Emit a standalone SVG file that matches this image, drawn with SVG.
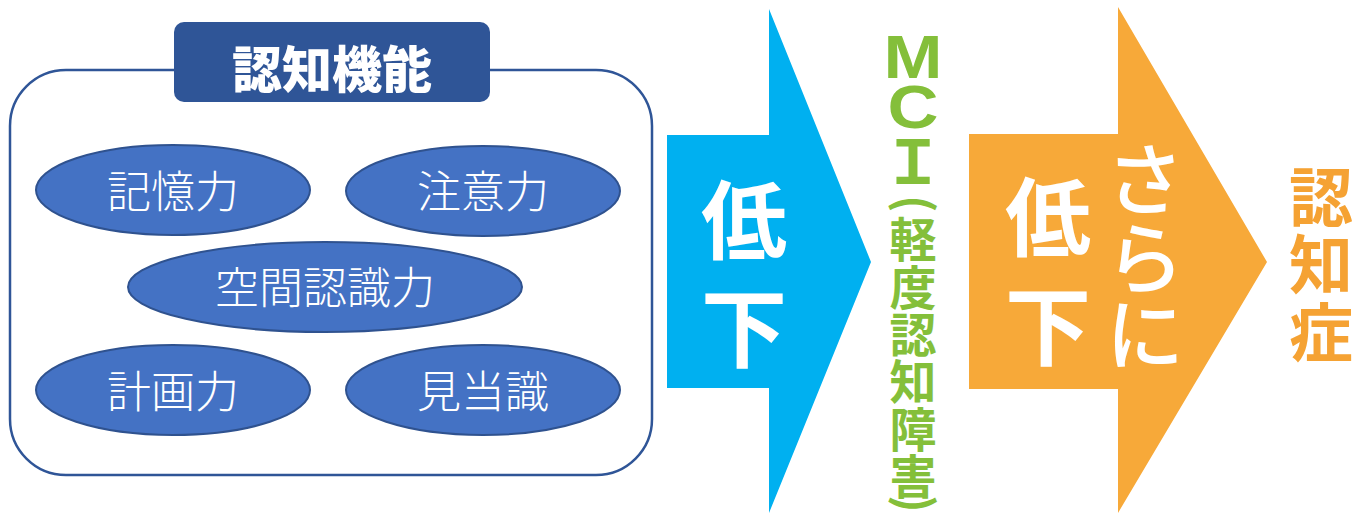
<svg xmlns="http://www.w3.org/2000/svg" width="1355" height="514" viewBox="0 0 1355 514">
<style>
.jp{font-family:"Noto Sans CJK JP","Noto Sans CJK SC",sans-serif;}
.lat{font-family:"Liberation Sans",Arial,sans-serif;}
.ell{fill:#4472C4;stroke:#2F528F;stroke-width:2;}
.et{fill:#fff;font-size:44px;font-weight:300;text-anchor:middle;dominant-baseline:central;}
.big{fill:#fff;font-size:86px;font-weight:bold;text-anchor:middle;dominant-baseline:central;}
.g{fill:#84BF3A;font-size:47px;font-weight:bold;text-anchor:middle;dominant-baseline:central;}
.o{fill:#F5A233;font-size:64px;font-weight:bold;text-anchor:middle;dominant-baseline:central;}
</style>
<rect width="1355" height="514" fill="#fff"/>
<g id="cognitive-function">
<rect x="10" y="70" width="642" height="405" rx="56" ry="56" fill="#fff" stroke="#2F5597" stroke-width="2.5"/>
<rect x="174" y="22" width="316" height="80" rx="10" ry="10" fill="#2F5597"/>
<text class="jp" x="332" y="66" fill="#fff" font-size="50" font-weight="900" text-anchor="middle" dominant-baseline="central">認知機能</text>
</g>
<g id="memory"><ellipse class="ell" cx="173" cy="190" rx="137" ry="45"/><text class="jp et" x="173" y="189">記憶力</text></g>
<g id="attention"><ellipse class="ell" cx="483" cy="191" rx="137" ry="45"/><text class="jp et" x="483" y="189">注意力</text></g>
<g id="spatial"><ellipse class="ell" cx="325" cy="287" rx="197" ry="45"/><text class="jp et" x="325" y="285">空間認識力</text></g>
<g id="planning"><ellipse class="ell" cx="173" cy="390" rx="137" ry="45"/><text class="jp et" x="173" y="389">計画力</text></g>
<g id="orientation"><ellipse class="ell" cx="483" cy="390" rx="137" ry="45"/><text class="jp et" x="483" y="389">見当識</text></g>
<g id="connectors">
<g id="arrow-decline">
<polygon points="667,135 769,135 769,9 871,262 769,513 769,388 667,388" fill="#00B0F0"/>
<text class="jp big"><tspan x="744" y="215">低</tspan><tspan x="744" y="323">下</tspan></text>
</g>
<g id="arrow-further">
<polygon points="969,134 1118,134 1118,7 1267,262 1118,513 1118,389 969,389" fill="#F7A939"/>
<text class="jp big"><tspan x="1048" y="212">低</tspan><tspan x="1048" y="321">下</tspan></text>
<text class="jp" fill="#fff" font-size="78" font-weight="500" text-anchor="middle" dominant-baseline="central"><tspan x="1145" y="175">さ</tspan><tspan x="1145" y="254">ら</tspan><tspan x="1145" y="330">に</tspan></text>
</g>
</g>
<g id="mci">
<text class="jp g"><tspan class="lat" x="913" y="57" font-size="61" textLength="59" lengthAdjust="spacingAndGlyphs">M</tspan><tspan class="lat" x="913" y="107" font-size="61" textLength="51" lengthAdjust="spacingAndGlyphs">C</tspan><tspan x="913" y="157" font-size="60">Ｉ</tspan></text>
<text class="jp g" x="918" y="204" transform="rotate(90 918 204)">(</text>
<text class="jp g"><tspan x="913" y="236">軽</tspan><tspan x="913" y="284">度</tspan><tspan x="913" y="331">認</tspan><tspan x="913" y="378">知</tspan><tspan x="913" y="426">障</tspan><tspan x="913" y="473">害</tspan></text>
<text class="jp g" x="918" y="504" transform="rotate(90 918 504)">)</text>
</g>
<g id="dementia">
<text class="jp o"><tspan x="1321" y="193">認</tspan><tspan x="1321" y="260">知</tspan><tspan x="1321" y="328">症</tspan></text>
</g>
</svg>
